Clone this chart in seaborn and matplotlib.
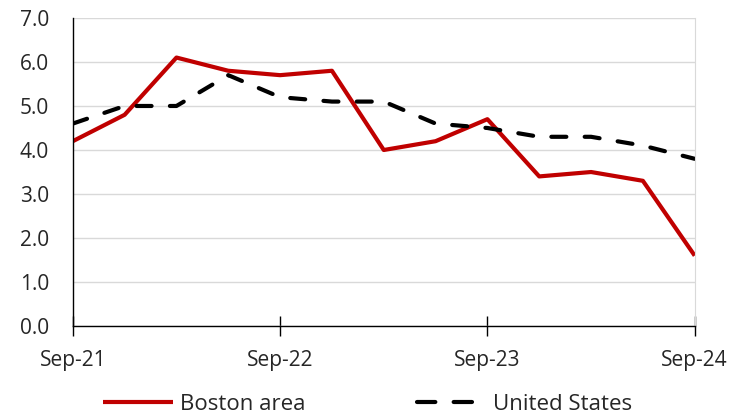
import numpy as np
import pandas as pd
import seaborn as sns
import matplotlib.pyplot as plt

quarters = ["Sep-21", "Dec-21", "Mar-22", "Jun-22", "Sep-22", "Dec-22", "Mar-23",
            "Jun-23", "Sep-23", "Dec-23", "Mar-24", "Jun-24", "Sep-24"]
boston = [4.2, 4.8, 6.1, 5.8, 5.7, 5.8, 4.0, 4.2, 4.7, 3.4, 3.5, 3.3, 1.6]
united_states = [4.6, 5.0, 5.0, 5.7, 5.2, 5.1, 5.1, 4.6, 4.5, 4.3, 4.3, 4.1, 3.8]
tick_labels = ["Sep-21", "Sep-22", "Sep-23", "Sep-24"]

df = pd.DataFrame({
    "pos": list(range(len(quarters))) * 2,
    "value": boston + united_states,
    "series": ["Boston area"] * len(boston) + ["United States"] * len(united_states),
})

sns.set_style("white")
plt.rcParams["font.family"] = ["Open Sans", "DejaVu Sans"]

fig = plt.figure(figsize=(7.43, 4.17), dpi=100)
ax = fig.add_axes([0.098, 0.218, 0.837, 0.739])

sns.lineplot(data=df, x="pos", y="value", hue="series", style="series",
             palette={"Boston area": "#C00000", "United States": "black"},
             dashes={"Boston area": "", "United States": (3.6, 4.4)},
             linewidth=3.0, ax=ax, legend=False)
for line in ax.get_lines():
    line.set_solid_capstyle("butt")
    line.set_dash_capstyle("round")

ax.set_xlim(0, len(quarters) - 1)
ax.set_ylim(0, 7)
ax.set_yticks(np.arange(0, 7.1, 1.0))
ax.set_yticklabels([f"{v:.1f}" for v in np.arange(0, 7.1, 1.0)])
ax.set_xticks([0, 4, 8, 12])
ax.set_xticklabels(tick_labels)
ax.set_xlabel("")
ax.set_ylabel("")
ax.grid(axis="y", color="#d9d9d9", linewidth=1)
ax.set_axisbelow(True)

ax.spines["top"].set_visible(False)
ax.spines["right"].set_color("#d9d9d9")
ax.spines["left"].set_color("black")
ax.spines["bottom"].set_color("black")
ax.spines["left"].set_linewidth(1)
ax.spines["bottom"].set_linewidth(1)

ax.tick_params(axis="x", direction="inout", length=14, width=1, color="black",
               labelsize=15, pad=10, bottom=True)
ax.tick_params(axis="y", length=0, labelsize=15, pad=17, left=True)

handles = [plt.Line2D([], [], color="#C00000", linewidth=3.0, solid_capstyle="butt"),
           plt.Line2D([], [], color="black", linewidth=3.0, dashes=(4.4, 4.4),
                      dash_capstyle="round")]
fig.legend(handles, ["Boston area", "United States"], loc="center",
           bbox_to_anchor=(0.495, 0.03), ncol=2, frameon=False, fontsize=16,
           handlelength=3.15, columnspacing=5.0, handletextpad=0.3)

fig.savefig("out.png", dpi=100)
